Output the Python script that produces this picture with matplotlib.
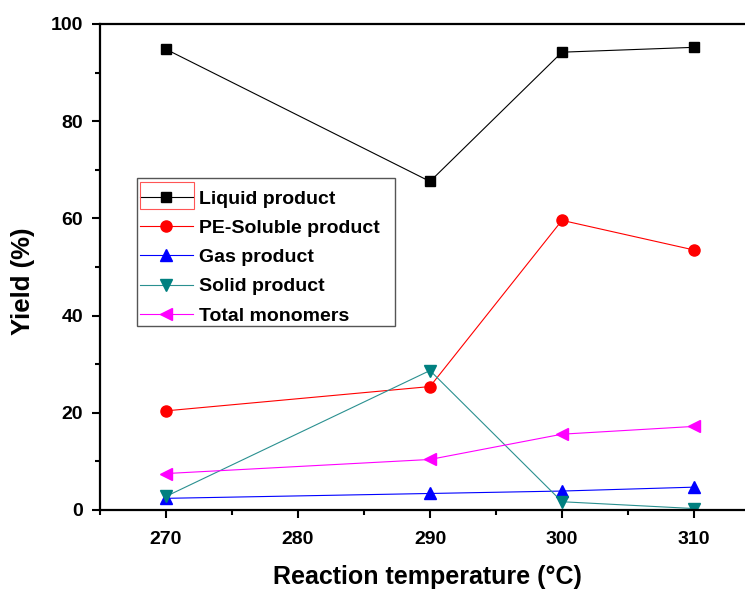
import matplotlib.pyplot as plt
from matplotlib.ticker import MultipleLocator
from matplotlib.patches import Rectangle

plt.rcParams["font.family"] = ["Liberation Sans", "DejaVu Sans"]
plt.rcParams["font.weight"] = "bold"

temps = [270, 290, 300, 310]
liquid = [94.8, 67.6, 94.2, 95.2]
pe_soluble = [20.4, 25.4, 59.6, 53.5]
gas = [2.4, 3.4, 3.9, 4.7]
solid = [2.8, 28.7, 1.7, 0.3]
monomers = [7.5, 10.4, 15.6, 17.2]

W, H = 745, 589
fig = plt.figure(figsize=(W / 100, H / 100), dpi=100)
# axes runs off the right edge like in the original
ax = fig.add_axes([100 / W, 79 / H, 660 / W, 486 / H])

ax.plot(temps, liquid, color="black", lw=0.8, marker="s", ms=7, label="Liquid product")
ax.plot(temps, pe_soluble, color="red", lw=0.8, marker="o", ms=8, label="PE-Soluble product")
ax.plot(temps, gas, color="blue", lw=0.8, marker="^", ms=9, label="Gas product")
ax.plot(temps, solid, color="#2a9090", mfc="#008080", mec="#008080", lw=0.8,
        marker="v", ms=9, label="Solid product")
ax.plot(temps, monomers, color="magenta", lw=0.8, marker="<", ms=9, label="Total monomers")

ax.set_xlim(265, 315)
ax.set_ylim(0, 100)
ax.xaxis.set_major_locator(MultipleLocator(10))
ax.xaxis.set_minor_locator(MultipleLocator(5))
ax.yaxis.set_major_locator(MultipleLocator(20))
ax.yaxis.set_minor_locator(MultipleLocator(10))
ax.set_xticks([270, 280, 290, 300, 310])
ax.tick_params(which="major", direction="out", length=6, width=1.5, labelsize=14, pad=6)
ax.tick_params(axis="x", which="major", pad=9)
ax.tick_params(which="minor", direction="out", length=3.5, width=1.5)
ax.tick_params(top=False, right=False)
for s in ax.spines.values():
    s.set_linewidth(1.6)

ax.set_xlabel("Reaction temperature (°C)", fontsize=18, fontweight="bold")
ax.xaxis.set_label_coords(0.496, -0.113)
ax.set_ylabel("Yield (%)", fontsize=18.5, fontweight="bold")
ax.yaxis.set_label_coords(-0.098, 0.47)

leg = ax.legend(loc="upper left", bbox_to_anchor=(140 / W, 1 - 190 / H),
                bbox_transform=fig.transFigure, borderaxespad=0, frameon=False,
                handlelength=2.7, handletextpad=0.35, labelspacing=0.6,
                borderpad=0, prop={"weight": "bold", "size": 14})

# legend frame drawn by hand so the padding matches
fig.add_artist(Rectangle((137 / W, 1 - 326 / H), 258 / W, 148 / H,
                         transform=fig.transFigure, fill=False,
                         edgecolor="#555555", lw=1.0))
# red selection box around the first legend handle
fig.add_artist(Rectangle((140 / W, 1 - 209 / H), 54 / W, 27 / H,
                         transform=fig.transFigure, fill=False,
                         edgecolor="#ff5555", lw=0.8))

fig.savefig("out.png", dpi=100)
